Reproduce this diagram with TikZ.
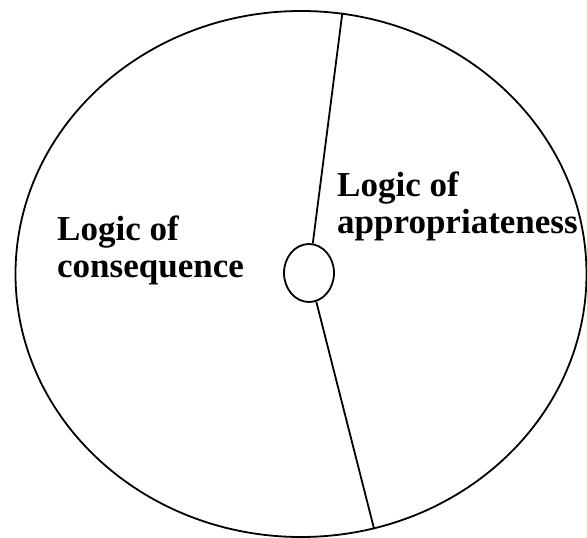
\documentclass[tikz,border=0pt]{standalone}
\usepackage{fontspec}
\setmainfont{Liberation Serif}
\usetikzlibrary{shapes.geometric}
\tikzset{
    rimLine/.style={ellipse, draw=black, line width=1.8pt, inner sep=0pt},
    splitLine/.style={line width=1.8pt},
    logicLabel/.style={align=left, inner sep=0pt, anchor=north west,
        font=\fontsize{35}{37}\selectfont\bfseries}
}

\begin{document}
\begin{tikzpicture}[x=1pt, y=-1pt]

    % --- Frame ---
    \useasboundingbox (0,0) rectangle (587,538);

    % --- Outer and inner ellipses ---
    \node[rimLine, minimum width=571pt, minimum height=526pt] (rim) at (301,274) {};
    \node[rimLine, minimum width=50pt, minimum height=58pt] (hub) at (309,273) {};

    % --- Dividing line ---
    \draw[splitLine] (rim.81) -- (hub);
    \draw[splitLine] (hub) -- (rim.-74);

    % --- Labels ---
    \node[logicLabel] (cons) at (57,216) {Logic of\\consequence};
    \node[logicLabel] (appr) at (337,172) {Logic of\\appropriateness};

\end{tikzpicture}
\end{document}
